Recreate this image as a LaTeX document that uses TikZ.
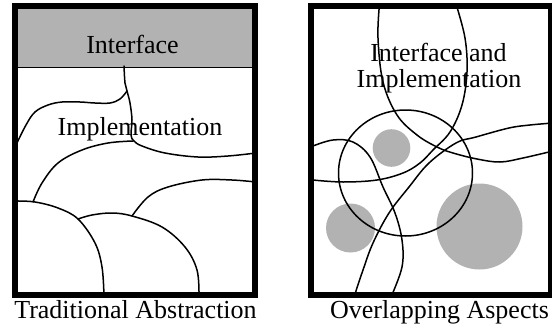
\documentclass[tikz,border=0pt]{standalone}
\usepackage{fontspec}
\setmainfont{Liberation Serif}
\definecolor{fillgray}{gray}{0.7}
\begin{document}
\begin{tikzpicture}[x=1pt,y=-1pt,
  frame/.style={line width=6.5pt},
  curve/.style={line width=1.5pt, line join=round, line cap=round},
  sep/.style={line width=1.3pt},
  blob/.style={fill=fillgray, draw=none},
  lbl/.style={font=\fontsize{26}{26}\selectfont, inner sep=0pt, anchor=base}]
\useasboundingbox (0,0) rectangle (552,327);

% ---------- left panel ----------
\fill[fillgray] (15,6) rectangle (255,67.5);
\draw[sep] (15,67.5) -- (255,67.5);
% A
\draw[curve] plot[smooth, tension=0.6] coordinates {(124,66) (125,83) (127,91) (130,103) (132,120) (131,135) (134,141) (142,146) (165,153) (198,157) (228,156) (256,153)};
% B
\draw[curve] plot[smooth, tension=0.6] coordinates {(127,91) (120,99) (110,103) (95,103) (80,102) (62,102) (48,105) (35,112) (26,125) (16,145)};
% C
\draw[curve] plot[smooth, tension=0.6] coordinates {(33,202) (42,183) (58,163) (82,150) (108,143) (133,141)};
% D
\draw[curve] plot[smooth, tension=0.6] coordinates {(16,201) (35,202) (58,208) (78,219) (95,243) (102,267) (104,296)};
% E
\draw[curve] plot[smooth, tension=0.6] coordinates {(78,219) (92,215) (112,213) (132,216) (162,227) (185,247) (197,270) (199,296)};
% F
\draw[curve] plot[smooth, tension=0.6] coordinates {(132,216) (148,197) (168,187) (202,180) (232,180) (256,182)};

\node[lbl] (iface) at (132.5,53) {Interface};
\node[lbl] (impl) at (140,135) {Implementation};
\draw[frame] (15,6) rectangle (255,295);
\node[lbl] (capL) at (135.5,318) {Traditional Abstraction};

% ---------- right panel ----------
\fill[blob] (391.5,148) circle [radius=18.8pt];
\fill[blob] (350.5,228) circle [radius=24.5pt];
\fill[blob] (479.5,226.5) circle [radius=43pt];
\draw[curve] (405.5,173) ellipse [x radius=67pt, y radius=63pt];
% loop, left side
\draw[curve] plot[smooth, tension=0.6] coordinates {(379.5,4) (378,38) (383,82) (397,115) (417,135) (437,147) (453,153) (477,159) (500,162) (523,158) (553,151)};
% loop, right side
\draw[curve] plot[smooth, tension=0.6] coordinates {(456,4) (465,38) (467,72) (462,105) (450,132) (433,150) (420,163) (403,173) (377,180) (343,182) (313,180)};
% long sweep
\draw[curve] plot[smooth, tension=0.6] coordinates {(553,123) (530,125) (509,128) (476,137) (456,143) (429,163) (409,187) (389,213) (373,243) (363,270) (354,297)};
% left bump
\draw[curve] plot[smooth, tension=0.6] coordinates {(313,146) (333,140) (353,142) (370,157) (383,187) (395,213) (402,240) (402,267) (391,297)};

\node[lbl] (iface2) at (438.5,61) {Interface and};
\node[lbl] (impl2) at (439,87) {Implementation};
\draw[frame] (311,6) rectangle (551,295);
\node[lbl] (capR) at (439.5,318) {Overlapping Aspects};
\end{tikzpicture}
\end{document}
